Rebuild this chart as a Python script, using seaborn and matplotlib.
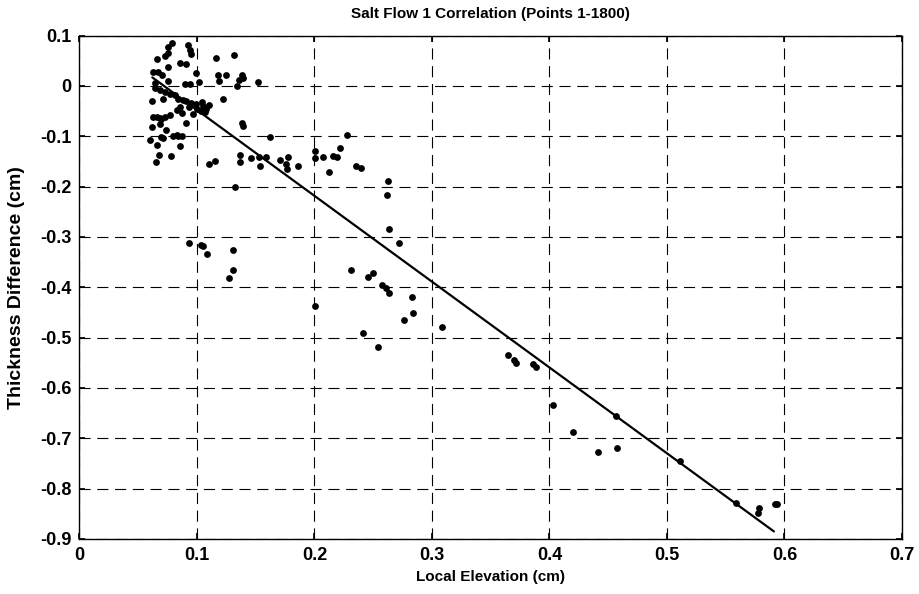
import numpy as np
import pandas as pd
import matplotlib
matplotlib.use("Agg")
import matplotlib.pyplot as plt
import seaborn as sns

# ---- data ----
elev = [0.0785, 0.075, 0.092, 0.094, 0.095, 0.075, 0.073, 0.066, 0.0855, 0.0906,
        0.0756, 0.116, 0.1315, 0.0628, 0.0668, 0.070, 0.099, 0.118, 0.125, 0.138,
        0.119, 0.136, 0.139, 0.134, 0.152, 0.064, 0.0756, 0.0898, 0.094, 0.102,
        0.064, 0.0685, 0.073, 0.077, 0.081, 0.084, 0.088, 0.091, 0.095, 0.099,
        0.104, 0.105, 0.107, 0.0614, 0.071, 0.122, 0.0855, 0.083, 0.087, 0.0657,
        0.069, 0.073, 0.077, 0.0685, 0.0906, 0.138, 0.1395, 0.0614, 0.0736, 0.0798,
        0.0836, 0.060, 0.0696, 0.0855, 0.066, 0.068, 0.065, 0.0776, 0.162, 0.1105,
        0.1153, 0.1366, 0.1366, 0.1457, 0.153, 0.159, 0.154, 0.1706, 0.1757, 0.1769,
        0.1777, 0.186, 0.2004, 0.2004, 0.207, 0.2126, 0.2155, 0.219, 0.2217, 0.2279,
        0.2353, 0.240, 0.2626, 0.2614, 0.2637, 0.2722, 0.1323, 0.0934, 0.103, 0.1055,
        0.1088, 0.1304, 0.1309, 0.1275, 0.231, 0.2453, 0.250, 0.2577, 0.2609, 0.2637,
        0.2827, 0.2762, 0.2836, 0.2004, 0.241, 0.2543, 0.3088, 0.365, 0.370, 0.3712,
        0.3857, 0.3885, 0.4032, 0.4197, 0.441, 0.4572, 0.4566, 0.511, 0.5587, 0.5785,
        0.5777, 0.592, 0.594,
        0.100, 0.103, 0.108, 0.097, 0.093, 0.110, 0.071, 0.0827, 0.087, 0.0628, 0.0685]
thick = [0.085, 0.078, 0.081, 0.072, 0.064, 0.065, 0.060, 0.053, 0.046, 0.043,
         0.037, 0.055, 0.062, 0.027, 0.028, 0.022, 0.025, 0.022, 0.022, 0.022,
         0.009, 0.012, 0.016, -0.001, 0.007, 0.005, 0.009, 0.004, 0.004, 0.007,
         -0.005, -0.008, -0.011, -0.015, -0.018, -0.025, -0.027, -0.030, -0.033, -0.036,
         -0.031, -0.039, -0.051, -0.029, -0.025, -0.026, -0.041, -0.047, -0.053, -0.062,
         -0.066, -0.062, -0.058, -0.076, -0.073, -0.074, -0.080, -0.082, -0.0875, -0.099,
         -0.100, -0.107, -0.101, -0.120, -0.117, -0.137, -0.152, -0.140, -0.101, -0.156,
         -0.149, -0.137, -0.152, -0.144, -0.141, -0.142, -0.158, -0.147, -0.155, -0.165,
         -0.142, -0.158, -0.129, -0.144, -0.142, -0.170, -0.139, -0.142, -0.124, -0.097,
         -0.158, -0.162, -0.188, -0.217, -0.285, -0.311, -0.201, -0.311, -0.316, -0.318,
         -0.334, -0.325, -0.366, -0.382, -0.366, -0.380, -0.372, -0.396, -0.402, -0.411,
         -0.420, -0.464, -0.452, -0.437, -0.490, -0.519, -0.478, -0.535, -0.545, -0.551,
         -0.553, -0.558, -0.634, -0.687, -0.728, -0.719, -0.655, -0.746, -0.829, -0.838,
         -0.848, -0.831, -0.831,
         -0.045, -0.050, -0.045, -0.055, -0.042, -0.038, -0.104, -0.097, -0.099, -0.061, -0.064]

fit_x = [0.062, 0.591]
fit_y = [0.017, -0.885]

x_ticks = [0, 0.1, 0.2, 0.3, 0.4, 0.5, 0.6, 0.7]
y_ticks = [0.1, 0, -0.1, -0.2, -0.3, -0.4, -0.5, -0.6, -0.7, -0.8, -0.9]
x_ticklabels = ["0", "0.1", "0.2", "0.3", "0.4", "0.5", "0.6", "0.7"]
y_ticklabels = ["0.1", "0", "-0.1", "-0.2", "-0.3", "-0.4", "-0.5", "-0.6", "-0.7", "-0.8", "-0.9"]

title = "Salt Flow 1 Correlation (Points 1-1800)"
xlabel = "Local Elevation (cm)"
ylabel = "Thickness Difference (cm)"

# ---- plotting ----
sns.set_theme(style="white")
plt.rcParams['font.family'] = ['Liberation Sans', 'DejaVu Sans']
plt.rcParams['text.color'] = 'black'
plt.rcParams['axes.labelcolor'] = 'black'

fig = plt.figure(figsize=(9.19, 5.94), dpi=100)
ax = fig.add_axes([0.0865, 0.0926, 0.8950, 0.8474])

pts = pd.DataFrame({"x": elev, "y": thick})
fit = pd.DataFrame({"x": fit_x, "y": fit_y})

sns.lineplot(data=fit, x="x", y="y", ax=ax, color="black", linewidth=1.6,
             zorder=3, sort=False)
sns.scatterplot(data=pts, x="x", y="y", ax=ax, color="black", s=24,
                edgecolor="black", linewidth=0, zorder=4, legend=False)

ax.set_xlim(0, 0.7)
ax.set_ylim(-0.9, 0.1)
ax.set_xticks(x_ticks)
ax.set_xticklabels(x_ticklabels)
ax.set_yticks(y_ticks)
ax.set_yticklabels(y_ticklabels)

ax.grid(True, color="black", linestyle=(0, (10, 6)), linewidth=0.8)
ax.set_axisbelow(True)
for s in ax.spines.values():
    s.set_visible(True)
    s.set_color("black")
    s.set_linewidth(1.0)

ax.tick_params(axis="both", which="both", direction="in", length=4,
               top=True, right=True, bottom=True, left=True,
               labelsize=13, colors="black", labelcolor="black", pad=6)
for lab in ax.get_xticklabels() + ax.get_yticklabels():
    lab.set_fontweight("bold")

ax.set_title(title, fontsize=11, fontweight="bold", pad=13, color="black")
ax.set_xlabel(xlabel, fontsize=11, fontweight="bold", labelpad=4, color="black")
ax.set_ylabel(ylabel, fontsize=14, fontweight="bold", color="black")
ax.yaxis.set_label_coords(-0.066, 0.5)

fig.savefig("out.png", dpi=100, facecolor="white")
